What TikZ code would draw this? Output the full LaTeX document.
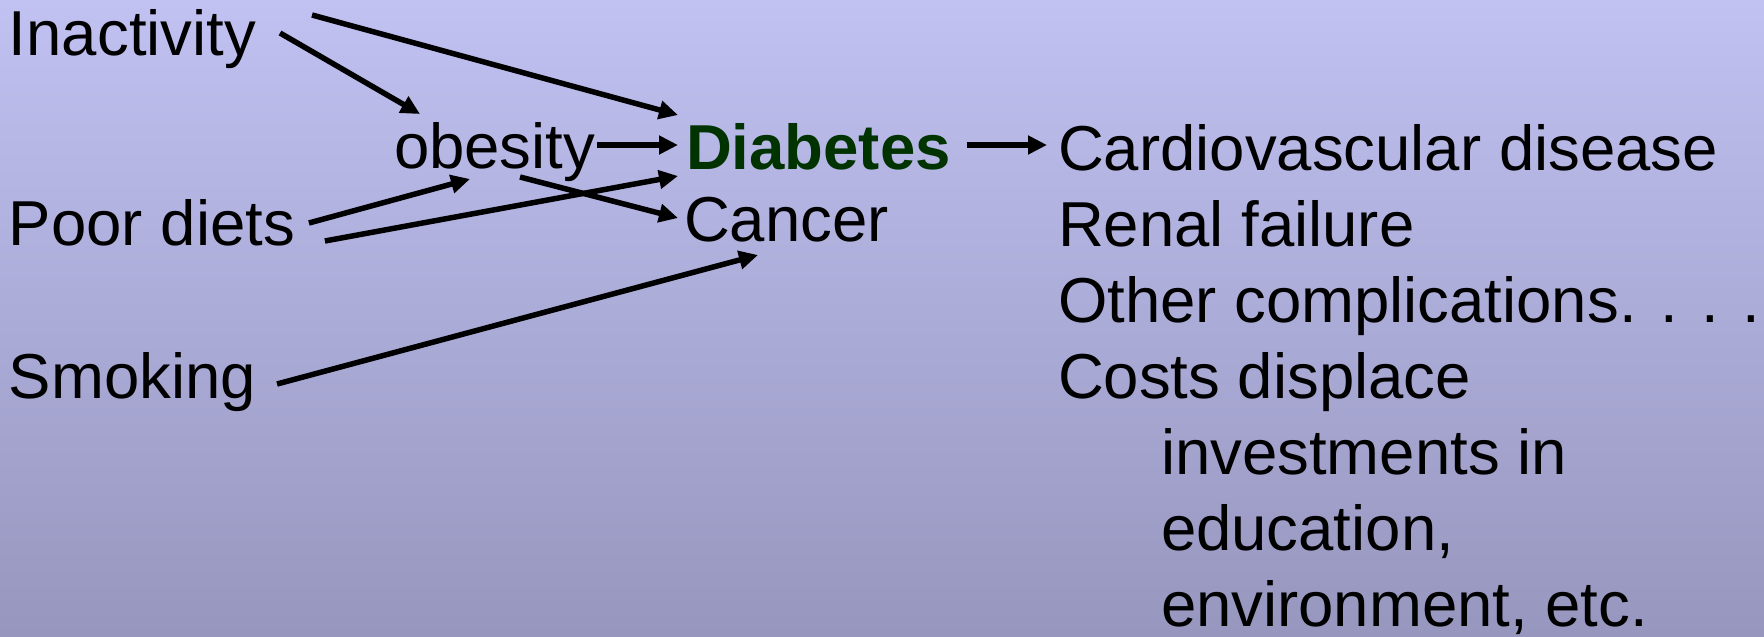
\documentclass[tikz,border=0pt]{standalone}
\usepackage{fontspec}
\setmainfont{Liberation Sans}
\usetikzlibrary{arrows.meta}
\definecolor{bgtop}{RGB}{193,193,242}
\definecolor{bgbot}{RGB}{150,150,190}
\definecolor{diabgreen}{RGB}{0,51,0}
\tikzset{
  lbl/.style={anchor=base west, inner sep=0pt, outer sep=0pt, font=\fontsize{63.5}{76}\selectfont},
  arr/.style={line width=5.5pt, -{Triangle[length=19pt,width=18pt]}}
}
\begin{document}
\begin{tikzpicture}[x=1pt,y=-1pt]
\shade[top color=bgtop, bottom color=bgbot] (0,0) rectangle (1764,637);
\useasboundingbox (0,0) rectangle (1764,637);
% left column
\node[lbl] (inact) at (9,55) {Inactivity};
\node[lbl] (poor) at (9,245) {Poor diets};
\node[lbl] (smoke) at (9,398) {Smoking};
% middle
\node[lbl] (obes) at (394,168) {obesity};
\node[lbl, text=diabgreen, font=\fontsize{63.5}{76}\selectfont\bfseries] (diab) at (686,169) {Diabetes};
\node[lbl] (canc) at (684,241) {Cancer};
% right column
\node[lbl] (cardio) at (1058,170) {Cardiovascular disease};
\node[lbl] (renal) at (1058,246) {Renal failure};
\node[lbl] (other) at (1058,322) {Other complications. . . .};
\node[lbl] (costs) at (1058,398) {Costs displace};
\node[lbl] (inv) at (1161,474) {investments in};
\node[lbl] (edu) at (1161,550) {education,};
\node[lbl] (env) at (1161,626) {environment, etc.};
% connectors
\draw[arr] ([shift={(56,-40)}]inact.base east) -- ([shift={(-8,-54)}]diab.base west);
\draw[arr] ([shift={(24,-22)}]inact.base east) -- ([shift={(26,-54)}]obes.base west);
\draw[arr] ([shift={(2,-23)}]obes.base east) -- ([shift={(-8,-24)}]diab.base west);
\draw[arr] ([shift={(14,-22)}]poor.base east) -- ([shift={(76,11)}]obes.base west);
\draw[arr] ([shift={(30,-4)}]poor.base east) -- ([shift={(-8,7)}]diab.base west);
\draw[arr] ([shift={(126,9)}]obes.base west) -- ([shift={(-6,-23)}]canc.base west);
\draw[arr] ([shift={(21,-14)}]smoke.base east) -- ([shift={(74,14)}]canc.base west);
\draw[arr] ([shift={(16,-24)}]diab.base east) -- ([shift={(-11,-25)}]cardio.base west);
\end{tikzpicture}
\end{document}
